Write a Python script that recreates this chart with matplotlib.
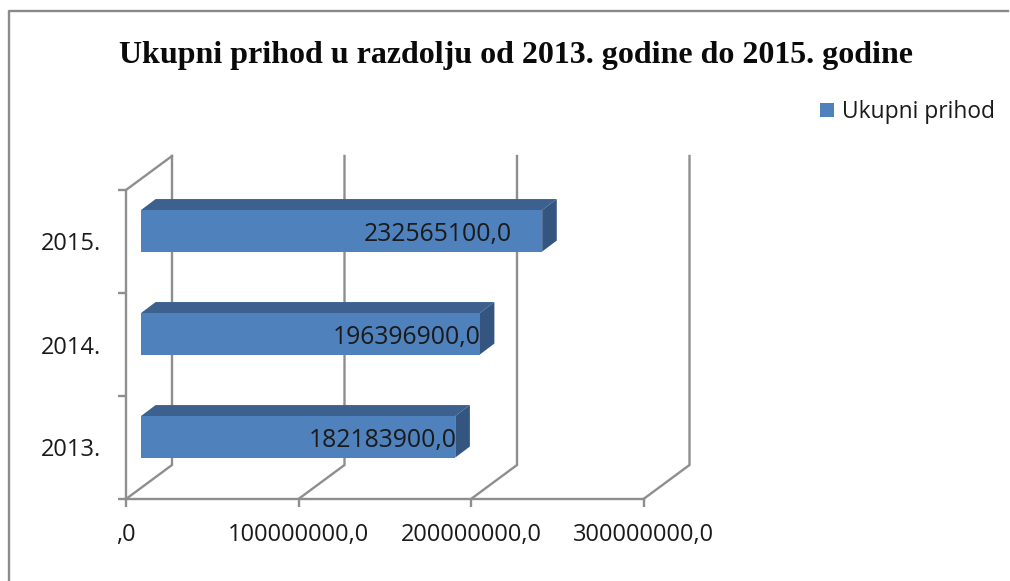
import matplotlib
matplotlib.use("Agg")
import matplotlib.pyplot as plt
from matplotlib.patches import Patch, Polygon
from matplotlib.lines import Line2D

years = ["2013.", "2014.", "2015."]
income = [182183900.0, 196396900.0, 232565100.0]
value_ticks = [0, 100000000, 200000000, 300000000]
value_tick_labels = [",0", "100000000,0", "200000000,0", "300000000,0"]
series_name = "Ukupni prihod"
title = "Ukupni prihod u razdolju od 2013. godine do 2015. godine"

W, H = 1010, 581
SANS = "Open Sans"
GRID = "#8e8e8e"
FRONT, TOP, SIDE = "#4f81bd", "#3c618f", "#33557f"
TEXT = "#1a1a1a"

fig = plt.figure(figsize=(W / 100, H / 100), dpi=100, facecolor="white")
L, R, T, B = 126, 643.5, 190, 499
ax = fig.add_axes([L / W, 1 - B / H, (R - L) / W, (B - T) / H])
ax.set_xlim(0, 300000000)
ax.set_ylim(0, 3)
ax.patch.set_alpha(0)
for s in ("top", "right"):
    ax.spines[s].set_visible(False)
for s in ("left", "bottom"):
    ax.spines[s].set_color(GRID)
    ax.spines[s].set_linewidth(1.7)

px_x = (R - L) / 300000000   # pixels per value unit
px_y = (B - T) / 3           # pixels per category unit
ux = lambda p: p / px_x
uy = lambda p: p / px_y

# 3-D wall: back verticals, floor diagonals, side-wall top diagonal
DX, DY = ux(46), uy(34)
for v in value_ticks:
    ax.add_line(Line2D([v, v + DX, v + DX], [0, DY, 3 + DY], color=GRID, lw=1.7,
                       clip_on=False, zorder=1, solid_joinstyle="miter"))
ax.add_line(Line2D([0, DX], [3, 3 + DY], color=GRID, lw=1.7, clip_on=False, zorder=1))

# 3-D bars
OX, OY = ux(15), uy(10.7)        # front face offset from the axes frame
BX, BY = ux(14.6), uy(11)        # bar depth
BAR_H = 41.5 / px_y
for i, v in enumerate(income):
    x0, x1 = OX, OX + v
    y0, y1 = i + 0.5 + OY - BAR_H / 2, i + 0.5 + OY + BAR_H / 2
    ax.add_patch(Polygon([(x0, y1), (x1, y1), (x1 + BX, y1 + BY), (x0 + BX, y1 + BY)],
                         fc=TOP, ec="none", clip_on=False, zorder=3))
    ax.add_patch(Polygon([(x1, y0), (x1 + BX, y0 + BY), (x1 + BX, y1 + BY), (x1, y1)],
                         fc=SIDE, ec="none", clip_on=False, zorder=3))
    ax.barh(i + 0.5 + OY, v, left=OX, height=BAR_H, color=FRONT, clip_on=False, zorder=4)

# data labels (the 2015 label was moved left in the original)
label_shift = [1.5, 1, -30.5]
for i, v in enumerate(income):
    ax.annotate(f"{v:.1f}".replace(".", ","), xy=(OX + v, i + 0.5 + OY),
                xytext=(label_shift[i] * 0.72, -2.5), textcoords="offset points",
                ha="right", va="center", fontsize=17.8, family=SANS, color=TEXT, zorder=5)

ax.set_xticks(value_ticks, value_tick_labels, family=SANS, fontsize=17, color=TEXT)
ax.set_yticks([0, 1, 2, 3], [])
ax.set_yticks([0.5, 1.5, 2.5], years, minor=True, family=SANS, fontsize=17, color=TEXT)
ax.tick_params(axis="both", which="major", color=GRID, width=1.7, length=5.5)
ax.tick_params(axis="x", pad=11.5)
ax.tick_params(axis="y", which="minor", length=0, pad=18)

fig.text(516 / W, 1 - 55 / H, title, family="Liberation Serif", fontweight="bold",
         fontsize=23, ha="center", va="center", color="#0a0a0a")

leg = fig.legend(handles=[Patch(fc=FRONT, label=series_name)], loc="center left",
                 bbox_to_anchor=(820 / W, 1 - 112 / H), frameon=False,
                 prop={"family": SANS, "size": 16.4}, handlelength=0.62, handleheight=0.62,
                 handletextpad=0.33, borderpad=0, borderaxespad=0, labelcolor=TEXT)

# picture frame
fig.add_artist(Line2D([8.5 / W, 8.5 / W, 1008 / W], [0, 1 - 10.5 / H, 1 - 10.5 / H],
                      color="#8a8a8a", lw=1.7, transform=fig.transFigure))

fig.savefig("out.png", dpi=100)
